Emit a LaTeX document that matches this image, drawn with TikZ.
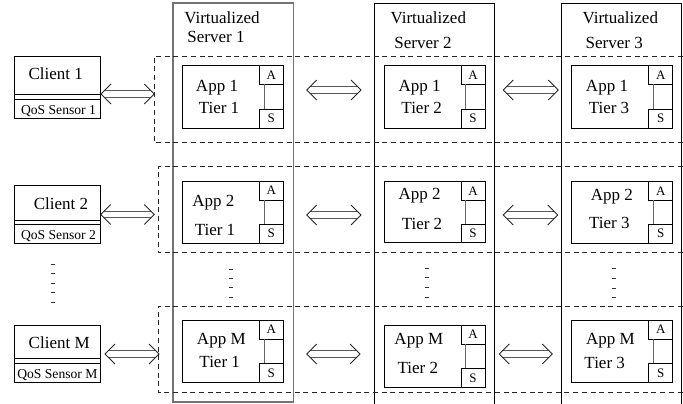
\documentclass[tikz,border=0pt]{standalone}
\usepackage{fontspec}
\setmainfont{Liberation Serif}
\usetikzlibrary{calc}
\newcommand\mkbox[6]{%
  \node[#1, minimum width={(#5)-(#3)}, minimum height={(#6)-(#4)}] (#2) at ({((#3)+(#5))/2},{((#4)+(#6))/2}) {};}
% app box: name, x1, y1, x2, y2, Abottom, Stop
\newcommand\appbox[7]{%
  \mkbox{thinbox}{#1}{#2}{#3}{#4}{#5}
  \node[thinbox, minimum width=24, minimum height={(#6)-(#3)}, anchor=north east, font=\fontsize{13}{15}\selectfont] (#1A) at (#1.north east) {A};
  \node[thinbox, minimum width=24, minimum height={(#5)-(#7)}, anchor=south east, font=\fontsize{13}{15}\selectfont] (#1S) at (#1.south east) {S};
  \draw[link] ([xshift=4.7pt]#1A.south west) -- ([xshift=4.7pt]#1S.north west);}
% client: name, top, sep1, sep2, bottom
\newcommand\clientbox[5]{%
  \mkbox{thinbox}{#1top}{14.3}{#2}{100.7}{#3}
  \mkbox{thinbox}{#1bot}{14.3}{#4}{100.7}{#5}
  \draw[thin line] (#1top.south west) -- (#1bot.north west);
  \draw[thin line] (#1top.south east) -- (#1bot.north east);}
% horizontal double arrow between two named coordinates (left, right)
\newcommand\dblarrow[2]{%
  \draw[dblshaft] ($(#1)+(3.4,0)$) -- ($(#2)+(-3.4,0)$);
  \draw[dblhead] ($(#1)+(10,-10)$) -- (#1) -- ($(#1)+(10,10)$);
  \draw[dblhead] ($(#2)+(-10,-10)$) -- (#2) -- ($(#2)+(-10,10)$);}
\begin{document}
\begin{tikzpicture}[x=1pt,y=-1pt,
  every node/.style={inner sep=0pt, outer sep=0pt},
  thin line/.style={line width=0.8pt, draw=black},
  thinbox/.style={rectangle, draw=black, line width=0.8pt},
  link/.style={line width=0.9pt, draw=black!60},
  bigtxt/.style={font=\fontsize{17}{20}\selectfont, anchor=base},
  smalltxt/.style={font=\fontsize{13.6}{15}\selectfont, anchor=base},
  rowline/.style={line width=0.8pt, draw=black!85, dash pattern=on 5pt off 3.7pt},
  dblshaft/.style={draw=black!65, line width=0.9pt, double=white, double distance=5.6pt},
  dblhead/.style={draw=black!85, line width=0.8pt, line join=miter},
  dotmark/.style={line width=0.9pt, draw=black!80}
]
\useasboundingbox (0,0) rectangle (683,404);

% servers
\draw[line width=1.6pt, draw=black!55] (172.7,3.3) rectangle (293.3,401.7);
\draw[thin line] (374.3,404) -- (374.3,3.3) -- (494.3,3.3) -- (494.3,404);
\draw[thin line] (561.7,404) -- (561.7,3.3) -- (681.7,3.3) -- (681.7,404);
\node[bigtxt] (v1) at (222,23.3) {Virtualized};
\node[bigtxt] (s1) at (216,42.3) {Server 1};
\node[bigtxt] (v2) at (428.3,23.3) {Virtualized};
\node[bigtxt] (s2) at (423,48.3) {Server 2};
\node[bigtxt] (v3) at (620.3,23.3) {Virtualized};
\node[bigtxt] (s3) at (614.3,48.3) {Server 3};

% dashed rows
\draw[rowline] (683,56) -- (154,56) -- (154,142.7) -- (683,142.7);
\draw[rowline] (683,166.7) -- (158,166.7) -- (158,252.7) -- (683,252.7);
\draw[rowline] (683,306) -- (158,306) -- (158,392.5) -- (683,392.5);

% clients
\clientbox{cl1}{56}{94.3}{99}{118.3}
\node[bigtxt] (cl1t) at (55.8,80) {Client 1};
\node[smalltxt] (cl1q) at (58.5,114.3) {QoS Sensor 1};
\clientbox{cl2}{185}{220}{224}{243.3}
\node[bigtxt] (cl2t) at (61,209.3) {Client 2};
\node[smalltxt] (cl2q) at (58.5,239.3) {QoS Sensor 2};
\clientbox{clM}{325}{358.3}{363.3}{382.7}
\node[bigtxt] (clMt) at (59.2,348.3) {Client M};
\node[smalltxt] (clMq) at (57.4,378.3) {QoS Sensor M};

% app boxes
\appbox{a11}{182.3}{65.7}{283.3}{128.3}{84.3}{109}
\appbox{a12}{384}{65.7}{485}{128.3}{84.3}{109}
\appbox{a13}{571}{65.7}{672.7}{128.3}{84.3}{109}
\appbox{a21}{182.3}{181}{283.3}{243.3}{200}{224}
\appbox{a22}{384}{181.7}{485}{242.7}{200}{224}
\appbox{a23}{571}{181.7}{672.7}{243.3}{200}{224}
\appbox{aM1}{182.3}{320}{283.3}{382.7}{339}{363.3}
\appbox{aM2}{384}{325}{485}{387.3}{344}{368.3}
\appbox{aM3}{571}{320}{672.7}{382.7}{339}{363.3}

\node[bigtxt] (t11a) at (217,91.7) {App 1};
\node[bigtxt] (t11b) at (219,113.3) {Tier 1};
\node[bigtxt] (t12a) at (419.7,91.7) {App 1};
\node[bigtxt] (t12b) at (421.7,113.3) {Tier 2};
\node[bigtxt] (t13a) at (607,91.7) {App 1};
\node[bigtxt] (t13b) at (609,113.3) {Tier 3};
\node[bigtxt] (t21a) at (213.3,206) {App 2};
\node[bigtxt] (t21b) at (215,235) {Tier 1};
\node[bigtxt] (t22a) at (419.7,199.3) {App 2};
\node[bigtxt] (t22b) at (422,229.3) {Tier 2};
\node[bigtxt] (t23a) at (611.8,200) {App 2};
\node[bigtxt] (t23b) at (609.3,228.3) {Tier 3};
\node[bigtxt] (tM1a) at (221.3,344) {App M};
\node[bigtxt] (tM1b) at (219.7,367.3) {Tier 1};
\node[bigtxt] (tM2a) at (418.8,344) {App M};
\node[bigtxt] (tM2b) at (417.8,373.3) {Tier 2};
\node[bigtxt] (tM3a) at (610.5,344) {App M};
\node[bigtxt] (tM3b) at (604.7,368.3) {Tier 3};

% arrow end points
\coordinate (r1a) at (101,94);   \coordinate (r1b) at (154.3,94);
\coordinate (r1c) at (306.7,90); \coordinate (r1d) at (361,90);
\coordinate (r1e) at (503.3,90); \coordinate (r1f) at (558.3,90);
\coordinate (r2a) at (100.7,214.5); \coordinate (r2b) at (154.3,214.5);
\coordinate (r2c) at (306.7,215); \coordinate (r2d) at (361,215);
\coordinate (r2e) at (503.3,215); \coordinate (r2f) at (557.7,215);
\coordinate (rMa) at (105,354); \coordinate (rMb) at (159,354);
\coordinate (rMc) at (306.7,354); \coordinate (rMd) at (360,354);
\coordinate (rMe) at (499.3,354); \coordinate (rMf) at (552.3,354);
\dblarrow{r1a}{r1b} \dblarrow{r1c}{r1d} \dblarrow{r1e}{r1f}
\dblarrow{r2a}{r2b} \dblarrow{r2c}{r2d} \dblarrow{r2e}{r2f}
\dblarrow{rMa}{rMb} \dblarrow{rMc}{rMd} \dblarrow{rMe}{rMf}

% vertical ellipsis marks
\foreach \y in {264,273.7,283.3,292.7,302.3} \draw[dotmark] (50.7,\y) -- (54.7,\y);
\foreach \y in {269,278.3,287.7,297.3} \draw[dotmark] (228.7,\y) -- (232.7,\y);
\foreach \y in {268.3,277.7,287.3,297} \draw[dotmark] (424.7,\y) -- (428.7,\y);
\foreach \y in {268,278,288,297} \draw[dotmark] (612.3,\y) -- (616.3,\y);
\end{tikzpicture}
\end{document}
